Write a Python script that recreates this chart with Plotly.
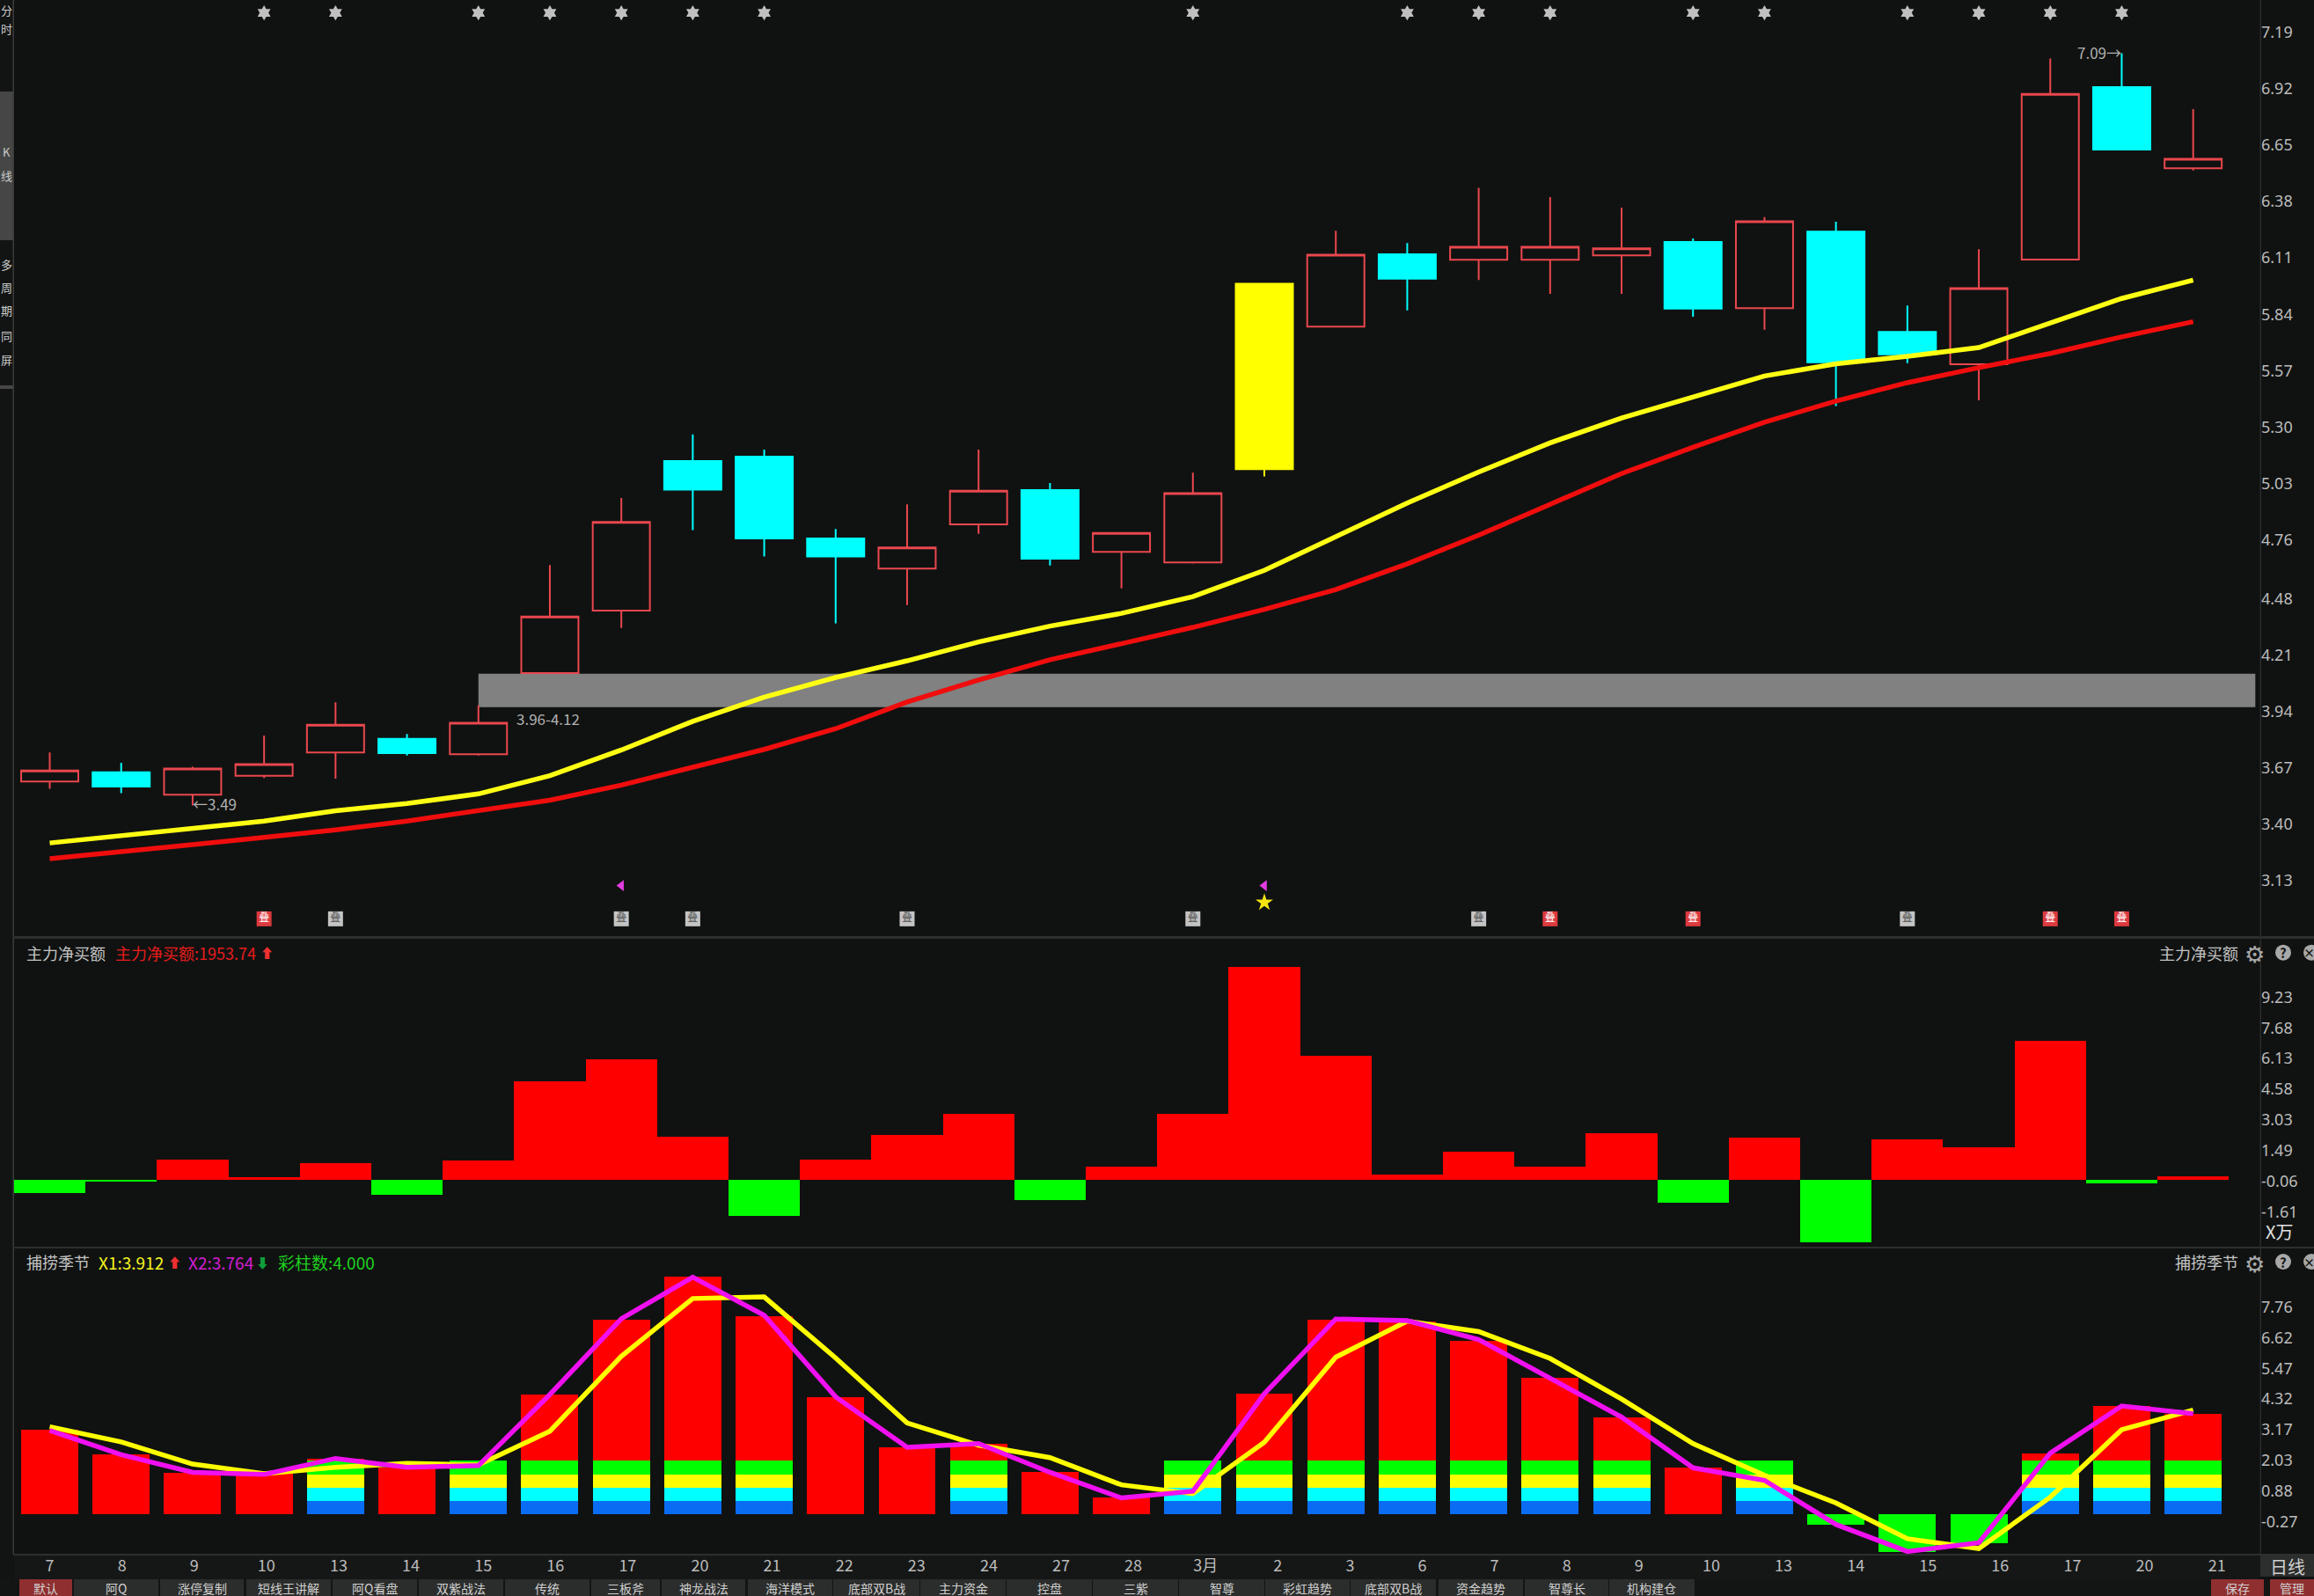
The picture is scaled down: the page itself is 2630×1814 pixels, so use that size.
import plotly.graph_objects as go

# ---------- data ----------
DATES = ["7","8","9","10","13","14","15","16","17","20","21","22","23","24","27","28","3月",
         "2","3","6","7","8","9","10","13","14","15","16","17","20","21"]
OPEN  = [3.604,3.648,3.541,3.632,3.743,3.808,3.735,4.123,4.422,5.138,5.159,4.768,4.623,4.835,4.999,4.703,
         4.653,5.099,5.781,6.128,6.101,6.101,6.122,6.187,5.870,6.236,5.756,5.601,6.102,6.928,6.539]
HIGH  = [3.743,3.694,3.675,3.824,3.983,3.832,3.969,4.640,4.961,5.265,5.193,4.813,4.931,5.193,5.033,4.794,
         5.082,5.987,6.240,6.181,6.446,6.401,6.351,6.203,6.305,6.283,5.882,6.152,7.064,7.090,6.822]
LOW   = [3.569,3.548,3.490,3.621,3.618,3.729,3.729,4.123,4.339,4.807,4.681,4.361,4.449,4.790,4.638,4.529,
         4.647,5.064,5.781,5.859,6.004,5.938,5.938,5.829,5.767,5.401,5.607,5.429,6.102,6.629,6.529]
CLOSE = [3.657,3.580,3.666,3.687,3.876,3.740,3.885,4.394,4.846,5.001,4.768,4.681,4.724,4.996,4.671,4.794,
         4.984,5.987,6.125,6.011,6.163,6.163,6.156,5.868,6.286,5.611,5.649,5.965,6.895,6.629,6.584]
LIMIT_UP_DAY = 17
MA_FAST = [3.310,3.345,3.377,3.415,3.464,3.499,3.545,3.632,3.755,3.892,4.008,4.102,4.182,4.272,4.348,4.409,
           4.489,4.615,4.776,4.937,5.085,5.225,5.344,5.443,5.545,5.603,5.639,5.681,5.801,5.916,6.004]
MA_SLOW = [3.235,3.267,3.302,3.337,3.373,3.415,3.464,3.515,3.587,3.671,3.758,3.857,3.985,4.090,4.187,4.264,
           4.342,4.428,4.523,4.646,4.783,4.931,5.078,5.204,5.324,5.425,5.513,5.585,5.653,5.732,5.805]
ZONE_LOW, ZONE_HIGH, ZONE_START = 3.96, 4.12, 6
PRICE_TICKS = [7.19,6.92,6.65,6.38,6.11,5.84,5.57,5.30,5.03,4.76,4.48,4.21,3.94,3.67,3.40,3.13]

NET_BUY = [-0.65,-0.07,1.04,0.15,0.86,-0.74,0.99,4.98,6.10,2.19,-1.81,1.02,2.28,3.33,-1.02,0.67,
           3.33,10.76,6.27,0.28,1.42,0.67,2.34,-1.14,2.15,-3.14,2.06,1.66,7.02,-0.18,0.19]
NET_TICKS = [9.23,7.68,6.13,4.58,3.03,1.49,-0.06,-1.61]

HIST = [3.17,2.24,1.55,1.51,2.08,1.75,1.85,4.49,7.29,8.92,7.43,4.39,2.51,2.64,1.60,0.63,
        0.86,4.52,7.29,7.22,6.50,5.12,3.63,1.74,1.27,-0.385,-1.42,-1.09,2.28,4.06,3.76]
RAINBOW_DAYS = [4,6,7,8,9,10,13,16,17,18,19,20,21,22,24,28,29,30]
RAINBOW_BANDS = [("#0a6cf2",0.0,0.5),("#00ffff",0.5,1.0),("#ffff00",1.0,1.5),("#00ff00",1.5,2.0)]
X1 = [3.28,2.71,1.88,1.52,1.76,1.91,1.85,3.11,5.92,8.09,8.15,5.86,3.42,2.59,2.12,1.10,
      0.77,2.70,5.89,7.24,6.85,5.84,4.32,2.65,1.46,0.42,-0.92,-1.29,0.64,3.17,3.91]
X2 = [3.14,2.23,1.57,1.49,2.09,1.76,1.82,4.49,7.33,8.89,7.46,4.40,2.51,2.65,1.57,0.61,
      0.86,4.52,7.32,7.26,6.55,5.12,3.64,1.74,1.27,-0.385,-1.40,-1.07,2.29,4.06,3.77]
OSC_TICKS = [7.76,6.62,5.47,4.32,3.17,2.03,0.88,-0.27]

SUN_DAYS = [3,4,6,7,8,9,10,16,19,20,21,23,24,26,27,28,29]
BADGE_RED = [3,21,23,28,29]
BADGE_GRAY = [4,8,9,12,16,20,26]
BOLT_DAYS = [8,17]
STAR_DAYS = [17]
TABS = [("默认",22,82),("阿Q",84,180),("涨停复制",182,277),("短线王讲解",280,376),("阿Q看盘",378,474),
        ("双紫战法",476,572),("传统",574,670),("三板斧",672,750),("神龙战法",752,847),("海洋模式",850,946),
        ("底部双B战",947,1045),("主力资金",1046,1143),("控盘",1144,1241),("三紫",1242,1339),("智尊",1340,1437),
        ("彩虹趋势",1438,1534),("底部双B战",1535,1632),("资金趋势",1635,1731),("智尊长",1733,1828),("机构建仓",1829,1926)]
SIDE_TEXT = [("分",11),("时",33),("K",172),("线",199),("多",300),("周",327),("期",353),("同",381),("屏",408)]

# ---------- layout constants ----------
W, H = 2630, 1814
L, R = 16, 61
BG = "#101211"
FONT = "Noto Sans CJK SC, Noto Sans, sans-serif"
RED_EDGE = "#ea474e"
XR = [-0.499, 30.94]
LABEL_PITCH = 82.1 / 81.2
N = len(DATES)
X = list(range(N))


def px(p):
    return (p - L) / (W - L - R)


def py(p):
    return 1 - p / H


fig = go.Figure()
NA = None
main_o = [NA if i == LIMIT_UP_DAY else v for i, v in enumerate(OPEN)]
main_h = [NA if i == LIMIT_UP_DAY else v for i, v in enumerate(HIGH)]
main_l = [NA if i == LIMIT_UP_DAY else v for i, v in enumerate(LOW)]
main_c = [NA if i == LIMIT_UP_DAY else v for i, v in enumerate(CLOSE)]
only = lambda arr: [v if i == LIMIT_UP_DAY else NA for i, v in enumerate(arr)]

fig.add_trace(go.Candlestick(x=X, open=main_o, high=main_h, low=main_l, close=main_c, xaxis="x", yaxis="y",
                             increasing=dict(line=dict(color=RED_EDGE, width=2), fillcolor="rgba(0,0,0,0)"),
                             decreasing=dict(line=dict(color="#00ffff", width=2), fillcolor="#00ffff"),
                             whiskerwidth=0))
fig.add_trace(go.Candlestick(x=X, open=only(OPEN), high=only(HIGH), low=only(LOW), close=only(CLOSE), xaxis="x", yaxis="y",
                             increasing=dict(line=dict(color="#ffff00", width=2), fillcolor="#ffff00"),
                             decreasing=dict(line=dict(color="#ffff00", width=2), fillcolor="#ffff00"),
                             whiskerwidth=0))
fig.add_trace(go.Scatter(x=X, y=MA_SLOW, mode="lines", line=dict(color="#f00d0d", width=5.5), xaxis="x", yaxis="y"))
fig.add_trace(go.Scatter(x=X, y=MA_FAST, mode="lines", line=dict(color="#ffff14", width=5.5), xaxis="x", yaxis="y"))

fig.add_trace(go.Scatter(x=SUN_DAYS, y=[7.283] * len(SUN_DAYS), mode="markers", xaxis="x", yaxis="y",
                         marker=dict(symbol="hexagram", size=13, color="#c0c0c0", line=dict(width=0))))
for days, col, tcol in ((BADGE_RED, "#dd3a3f", "#ffffff"), (BADGE_GRAY, "#c4c4c4", "#555555")):
    fig.add_trace(go.Scatter(x=days, y=[2.947] * len(days), mode="markers+text", text=["叠"] * len(days),
                             textposition="middle center", textfont=dict(family=FONT, size=12, color=tcol),
                             xaxis="x", yaxis="y", marker=dict(symbol="square", size=17, color=col, line=dict(width=0))))
fig.add_trace(go.Scatter(x=BOLT_DAYS, y=[3.106] * len(BOLT_DAYS), mode="markers", xaxis="x", yaxis="y",
                         marker=dict(symbol="triangle-left", size=11, color="#e23ce2", line=dict(width=0))))
fig.add_trace(go.Scatter(x=STAR_DAYS, y=[3.025] * len(STAR_DAYS), mode="markers", xaxis="x", yaxis="y",
                         marker=dict(symbol="star", size=15, color="#f5e312", line=dict(width=0))))

fig.add_trace(go.Bar(x=X, y=NET_BUY, width=1.0, xaxis="x2", yaxis="y2",
                     marker=dict(color=["#ff0000" if v > 0 else "#00ff00" for v in NET_BUY], line=dict(width=0))))

fig.add_trace(go.Bar(x=X, y=HIST, width=0.8, xaxis="x3", yaxis="y3",
                     marker=dict(color=["#ff0000" if v > 0 else "#00ff00" for v in HIST], line=dict(width=0))))
for col, lo, hi in RAINBOW_BANDS:
    fig.add_trace(go.Bar(x=RAINBOW_DAYS, y=[hi - lo] * len(RAINBOW_DAYS), base=[lo] * len(RAINBOW_DAYS),
                         width=0.8, xaxis="x3", yaxis="y3", marker=dict(color=col, line=dict(width=0))))
fig.add_trace(go.Scatter(x=X, y=X1, mode="lines", line=dict(color="#ffff00", width=5.5), xaxis="x3", yaxis="y3"))
fig.add_trace(go.Scatter(x=X, y=X2, mode="lines", line=dict(color="#f010f0", width=5.5), xaxis="x3", yaxis="y3"))

shapes = []
annos = []


def rect(x0, y0, x1, y1, color, layer="below"):
    shapes.append(dict(type="rect", xref="paper", yref="paper", x0=px(x0), x1=px(x1), y0=py(y0), y1=py(y1),
                       fillcolor=color, line=dict(width=0), layer=layer))


def text(x, y, s, color="#c4c4c4", size=18, anchor="left"):
    annos.append(dict(xref="paper", yref="paper", x=px(x), y=py(y), text=s, showarrow=False, xanchor=anchor,
                      yanchor="middle", align=anchor, borderpad=0, borderwidth=0,
                      font=dict(family=FONT, size=size, color=color)))


# grey support zone
shapes.append(dict(type="rect", xref="x", yref="y", x0=ZONE_START, x1=30.87, y0=ZONE_LOW, y1=ZONE_HIGH,
                   fillcolor="#808180", line=dict(width=0), layer="below"))
# chrome
rect(0, 0, 15, 1814, "#121413")
rect(0, 104, 15, 273, "#454645")
rect(0, 438, 15, 442, "#454645")
rect(14.5, 0, 16, 1767, "#3a3c3b")
rect(15, 1064, W, 1067, "#2d2f2e")
rect(15, 1417, W, 1419, "#2d2f2e")
rect(15, 1766, W, 1768, "#2d2f2e")
rect(2568.5, 0, 2570, 1767, "#2a2c2b")
rect(16, 1768, 2569, 1795, "#151716")
rect(0, 1795, W, H, "#131514")
rect(2569, 1768, W, 1792, "#2c2e2d")
rect(2513, 1795, 2573, H, "#8f2f2f")
rect(2580, 1795, W, H, "#8f2f2f")

for i, (name, x0, x1) in enumerate(TABS):
    rect(x0, 1795, x1, H, "#8f2f2f" if i == 0 else "#2b2d2c")
    text((x0 + x1) / 2, 1804.5, name, "#d0d0d0", 14, "center")

text(2600, 1780, "日线", "#d0d0d0", 20, "center")
text(2543, 1804.5, "保存", "#d0d0d0", 14, "center")
text(2605, 1804.5, "管理", "#d0d0d0", 14, "center")
for s, y in SIDE_TEXT:
    text(7, y, s, "#cccccc", 13, "center")

# headers
text(30, 1082.7, "主力净买额")
text(131, 1082.7, "主力净买额:1953.74", "#e81c1c")
text(296, 1082.7, "⬆", "#f03030", 15)
text(30, 1434, "捕捞季节")
text(112, 1434, "X1:3.912", "#f6f61e", 19)
text(191, 1434, "⬆", "#f03030", 15)
text(214, 1434, "X2:3.764", "#d21ed2", 19)
text(291, 1434, "⬇", "#0fa03c", 15)
text(316, 1434, "彩柱数:4.000", "#1fd01f", 19)
for y, name in ((1082.7, "主力净买额"), (1434, "捕捞季节")):
    text(2544, y, name, anchor="right")
    text(2562, y, "⚙", "#a8a8a8", 26, "center")
    shapes.append(dict(type="circle", xref="paper", yref="paper", x0=px(2586), x1=px(2604), y0=py(y - 9), y1=py(y + 9),
                       fillcolor="#a8a8a8", line=dict(width=0)))
    text(2595, y, "<b>?</b>", "#101211", 15, "center")
    shapes.append(dict(type="circle", xref="paper", yref="paper", x0=px(2618), x1=px(2636), y0=py(y - 9), y1=py(y + 9),
                       fillcolor="#a8a8a8", line=dict(width=0)))
    text(2624, y, "<b>×</b>", "#101211", 13, "center")
text(2575, 1399, "X万", "#e0e0e0", 20)

# price callouts
text(219, 913, "←3.49", "#b0b0b0", 17)
text(2411, 59.5, "7.09→", "#b0b0b0", 17, "right")
text(587, 816.7, "3.96-4.12", "#b0b0b0", 17)


def xaxis(**kw):
    base = dict(range=XR, showgrid=False, zeroline=False, showline=False, fixedrange=True, ticks="",
                showticklabels=False, rangeslider=dict(visible=False))
    base.update(kw)
    return base


def yaxis(dom, rng, ticks, xname):
    return dict(domain=dom, range=rng, side="right", anchor=xname, showgrid=False, zeroline=False, showline=False,
                ticks="", tickmode="array", tickvals=ticks, ticktext=[f"{t:.2f}" for t in ticks],
                tickfont=dict(family="Noto Sans, sans-serif", size=18, color="#bcbcbc"), fixedrange=True)


fig.update_layout(
    width=W, height=H, autosize=False, margin=dict(l=L, r=R, t=0, b=0, pad=0),
    paper_bgcolor=BG, plot_bgcolor=BG, showlegend=False, hovermode=False,
    barmode="overlay", bargap=0, boxgap=0.2, boxgroupgap=0, boxmode="overlay",
    xaxis=xaxis(anchor="y"),
    xaxis2=xaxis(anchor="y2", matches="x"),
    xaxis3=xaxis(anchor="y3", matches="x", showticklabels=True, tickmode="array",
                 tickvals=[i * LABEL_PITCH for i in X], ticktext=DATES,
                 tickfont=dict(family=FONT, size=18, color="#bcbcbc")),
    yaxis=yaxis([py(1065), 1], [2.860, 7.3445], PRICE_TICKS, "x"),
    yaxis2=yaxis([py(1418), py(1067)], [-3.42, 12.18], NET_TICKS, "x2"),
    yaxis3=yaxis([py(1767), py(1418)], [-1.518, 10.0], OSC_TICKS, "x3"),
    shapes=shapes, annotations=annos,
)

fig.write_html("out.html", config=dict(displayModeBar=False),
               post_script="document.body.style.margin='0';document.documentElement.style.overflow='hidden';")
